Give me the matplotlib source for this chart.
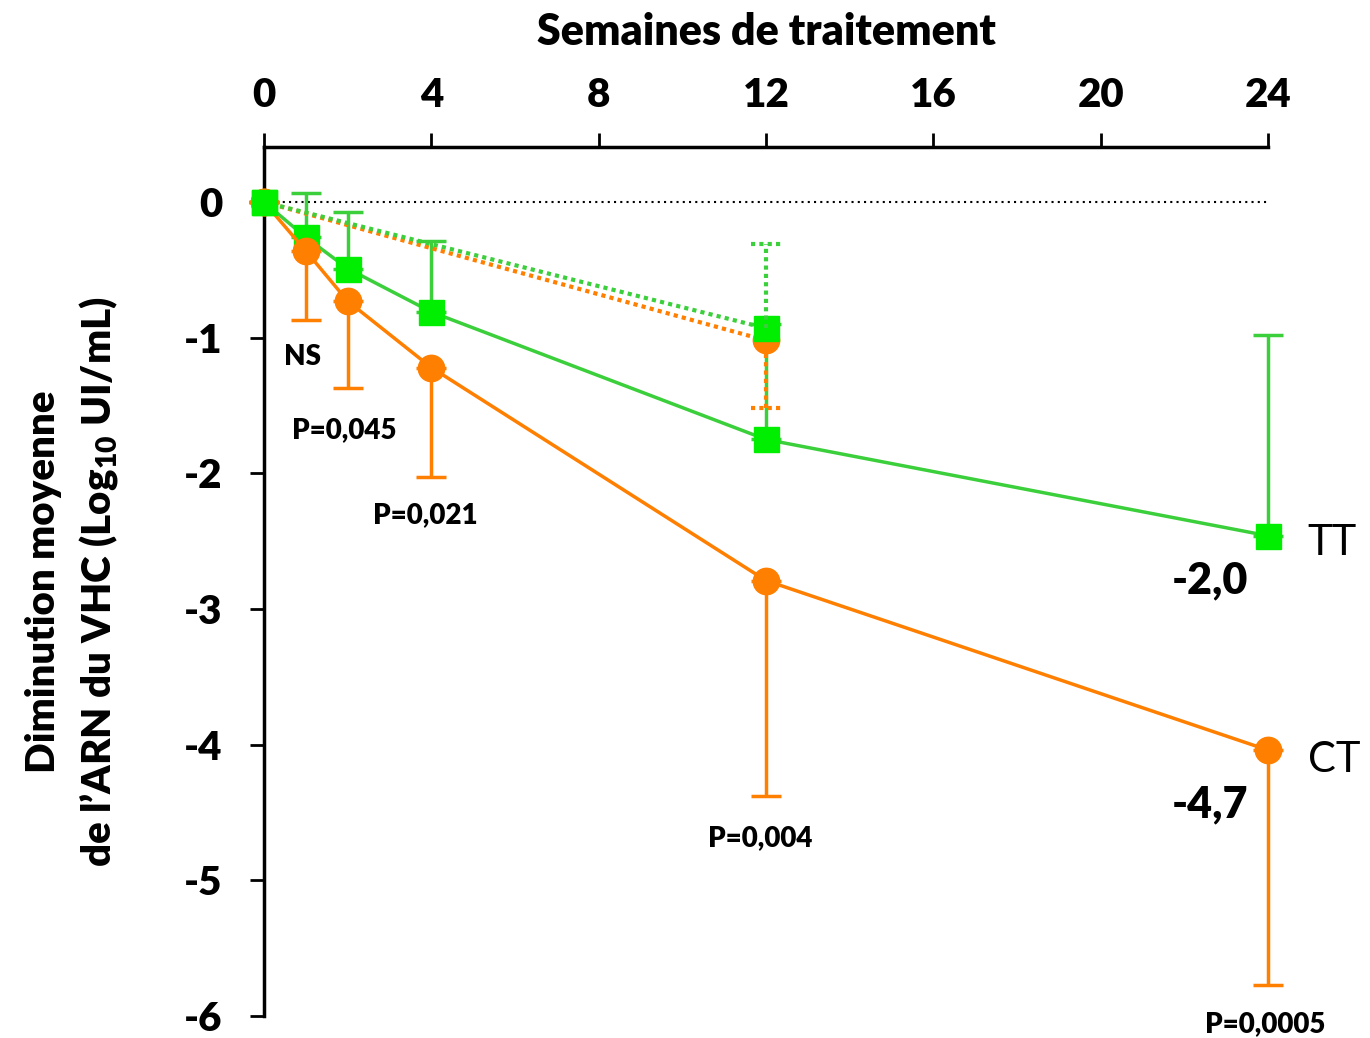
import numpy as np
import matplotlib
matplotlib.use('Agg')
import matplotlib.pyplot as plt

plt.rcParams['font.family'] = ['Lato', 'DejaVu Sans']
plt.rcParams['mathtext.fontset'] = 'custom'
plt.rcParams['mathtext.rm'] = 'Lato:heavy'
plt.rcParams['mathtext.bf'] = 'Lato:heavy'

# data
weeks = [0, 1, 2, 4, 12, 24]
ct_mean = [0, -0.36, -0.73, -1.22, -2.79, -4.04]
ct_low = [0, -0.87, -1.37, -2.03, -4.38, -5.77]
tt_mean = [0, -0.26, -0.49, -0.81, -1.75, -2.46]
tt_high = [0, 0.07, -0.07, -0.29, -0.90, -0.98]

weeks_dot = [0, 12]
ct_dot = [0, -1.02]
ct_dot_low = [0, -1.52]
tt_dot = [0, -0.93]
tt_dot_high = [0, -0.31]

p_labels = ['NS', 'P=0,045', 'P=0,021', 'P=0,004', 'P=0,0005']
p_pos = [(0.91, -1.14), (1.91, -1.68), (3.86, -2.31), (11.86, -4.69), (23.93, -6.06)]

orange = '#FF7F00'
green_line = '#3CCF3C'
green_mark = '#00EE00'
W = 'heavy'

fig = plt.figure(figsize=(13.7, 10.38), dpi=100)
ax = fig.add_axes([0.1927, 0.0212, 0.7328, 0.8372])

ax.plot([0, 24], [0, 0], color='black', linestyle=(0, (1, 2)), linewidth=1.5, zorder=1)

# solid series
ax.errorbar(weeks, tt_mean,
            yerr=[np.zeros(6), np.array(tt_high) - np.array(tt_mean)],
            color=green_line, mfc=green_mark, mec=green_mark, linewidth=2.5, marker='s',
            markersize=18, capsize=11, capthick=2.5, elinewidth=2.5, zorder=3, clip_on=False)
ax.errorbar(weeks, ct_mean,
            yerr=[np.array(ct_mean) - np.array(ct_low), np.zeros(6)],
            color=orange, linewidth=2.5, marker='o', markersize=19,
            capsize=11, capthick=2.5, elinewidth=2.5, zorder=4, clip_on=False)

# dotted series (week 12)
dots = (0, (1, 1))
ax.plot(weeks_dot, ct_dot, color=orange, linestyle=dots, linewidth=3,
        marker='o', markersize=19, zorder=5, clip_on=False)
ax.vlines(weeks_dot[1:], ct_dot_low[1:], ct_dot[1:], color=orange, linestyle=dots,
          linewidth=3, zorder=5)
ax.hlines(ct_dot_low[1:], [w - 0.36 for w in weeks_dot[1:]], [w + 0.36 for w in weeks_dot[1:]],
          color=orange, linestyle=dots, linewidth=3, zorder=5)

ax.plot(weeks_dot, tt_dot, color=green_line, mfc=green_mark, mec=green_mark, linestyle=dots,
        linewidth=3, marker='s', markersize=18, zorder=6, clip_on=False)
ax.vlines(weeks_dot[1:], tt_dot[1:], tt_dot_high[1:], color=green_line, linestyle=dots,
          linewidth=3, zorder=6)
ax.hlines(tt_dot_high[1:], [w - 0.36 for w in weeks_dot[1:]], [w + 0.36 for w in weeks_dot[1:]],
          color=green_line, linestyle=dots, linewidth=3, zorder=6)

ax.set_xlim(0, 24)
ax.set_ylim(-6, 0.406)
ax.set_xticks([0, 4, 8, 12, 16, 20, 24])
ax.set_yticks([0, -1, -2, -3, -4, -5, -6])
ax.set_yticklabels(['0', '-1', '-2', '-3', '-4', '-5', '-6'])
ax.xaxis.tick_top()
ax.xaxis.set_label_position('top')
ax.spines['right'].set_visible(False)
ax.spines['bottom'].set_visible(False)
for s in ['top', 'left']:
    ax.spines[s].set_linewidth(2.5)
ax.tick_params(axis='x', direction='out', length=10, width=2, pad=14, labelsize=29)
ax.tick_params(axis='y', direction='out', length=10, width=2, pad=20, labelsize=29)
for lab in ax.get_xticklabels() + ax.get_yticklabels():
    lab.set_fontweight(W)

ax.set_xlabel('Semaines de traitement', fontsize=31, fontweight=W, labelpad=23)
ax.set_ylabel('Diminution moyenne\nde l\u2019ARN du VHC (Log$_{10}$ UI/mL)',
              fontsize=29, fontweight=W, labelpad=46, linespacing=1.45)

for txt, (x, y) in zip(p_labels, p_pos):
    ax.text(x, y, txt, fontsize=20, fontweight=W, ha='center', va='center', clip_on=False)

ax.text(24.95, -2.51, 'TT', fontsize=30, ha='left', va='center', clip_on=False)
ax.text(24.95, -4.11, 'CT', fontsize=30, ha='left', va='center', clip_on=False)
ax.text(22.62, -2.79, '-2,0', fontsize=31, fontweight=W, ha='center', va='center')
ax.text(22.62, -4.44, '-4,7', fontsize=31, fontweight=W, ha='center', va='center')

fig.savefig('out.png', dpi=100)
